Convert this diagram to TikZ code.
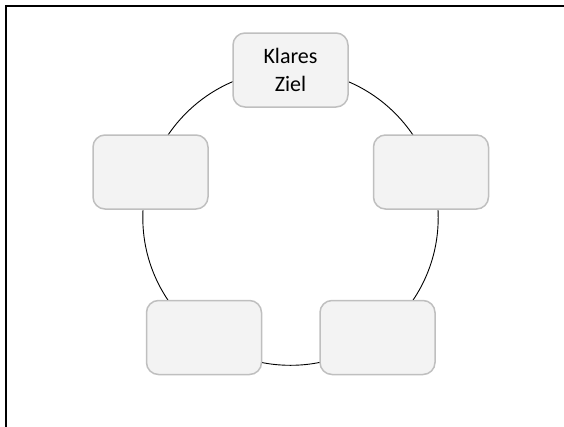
\documentclass[tikz,border=0pt]{standalone}
\usepackage{fontspec}
\setmainfont{Carlito}
\definecolor{boxgray}{HTML}{BFBFBF}
\definecolor{boxfill}{HTML}{F3F3F3}
\begin{document}
\begin{tikzpicture}[x=1pt,y=-1pt,
  stepbox/.style={draw=boxgray, fill=boxfill, line width=1.5pt, rounded corners=12pt,
    minimum width=115pt, minimum height=74pt, inner sep=0pt, align=center,
    font=\fontsize{22}{28}\selectfont},
  ring/.style={draw=black, line width=0.9pt},
  frame/.style={draw=black, line width=2pt}]
\useasboundingbox (0,0) rectangle (564,426);
\clip (0,0) rectangle (564,426);
\coordinate (c) at (290.5,217.6);
\path[ring] (c) circle[radius=147.7];
\node[stepbox] (n1) at (290.5,70) {Klares\\Ziel};
\node[stepbox] (n2) at (431,172) {};
\node[stepbox] (n3) at (377.5,337.5) {};
\node[stepbox] (n4) at (204,337.5) {};
\node[stepbox] (n5) at (150.5,172) {};
\coordinate (fa) at (6,440);
\coordinate (fb) at (6,6);
\coordinate (fc) at (580,6);
\draw[frame] (fa) -- (fb) -- (fc);
\end{tikzpicture}
\end{document}
